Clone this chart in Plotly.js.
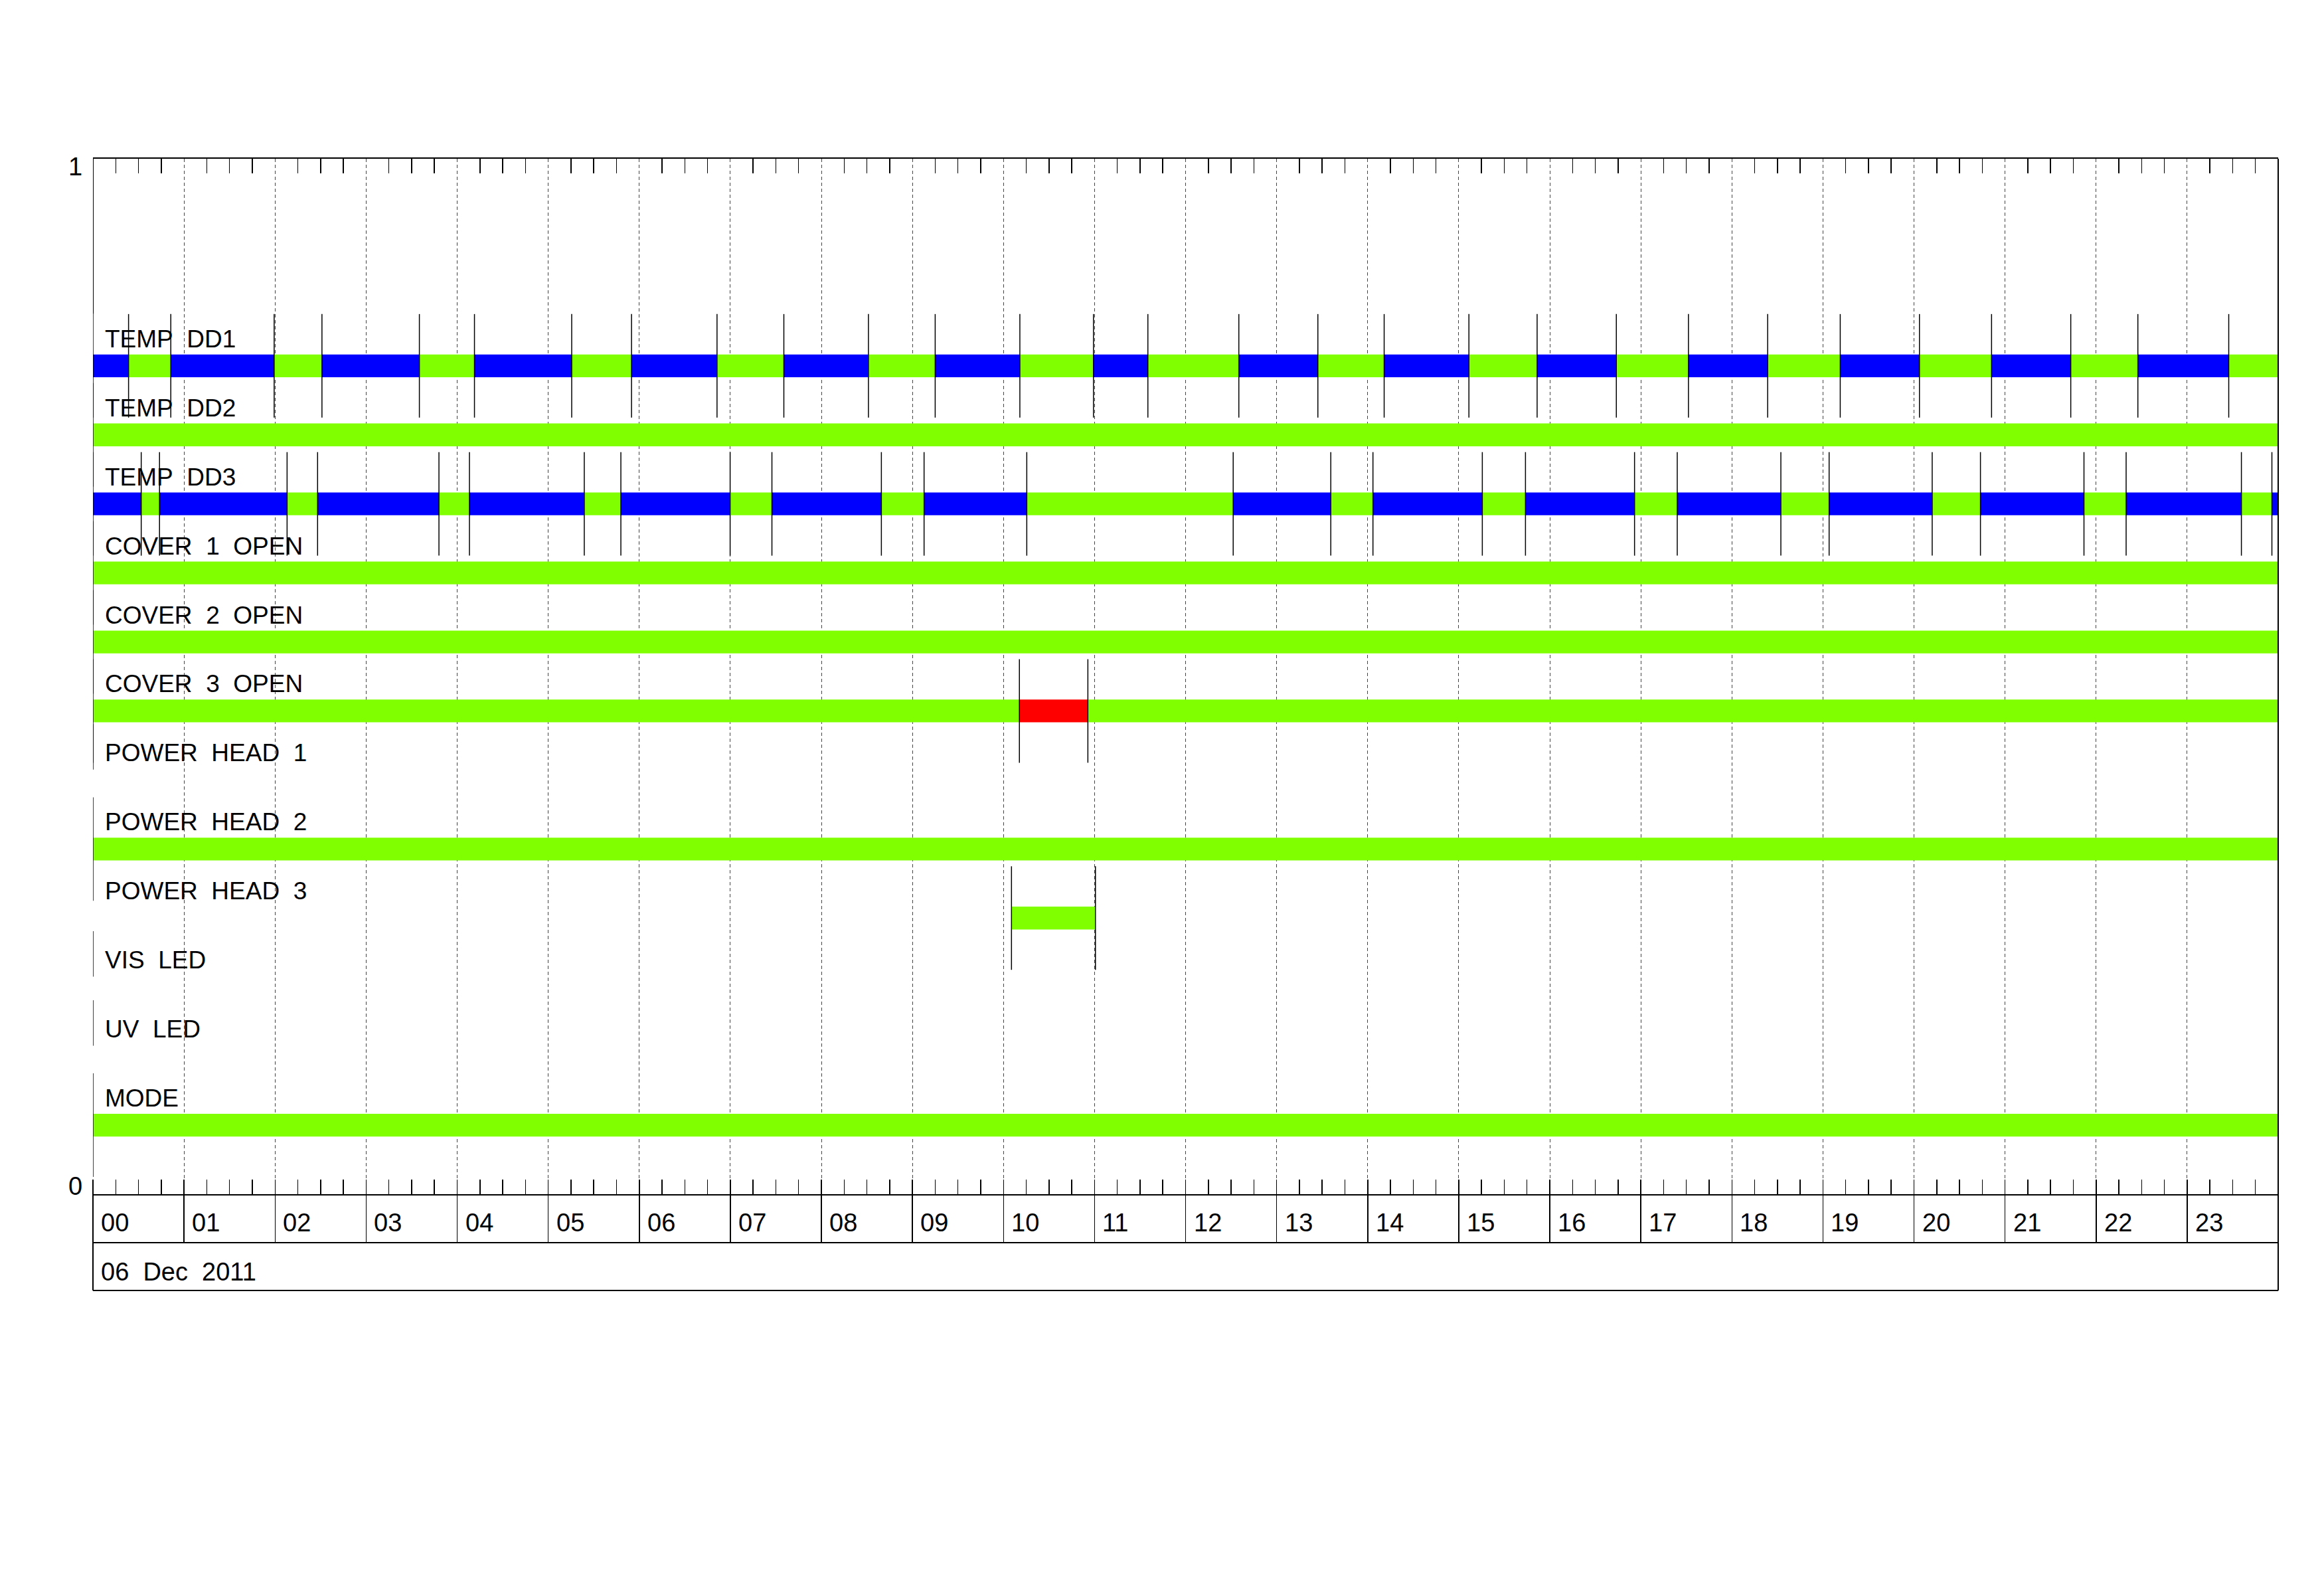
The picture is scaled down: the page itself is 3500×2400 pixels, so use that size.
<!DOCTYPE html>
<html><head><meta charset="utf-8">
<script src="https://cdn.plot.ly/plotly-3.0.1.min.js"></script>
<style>html,body{margin:0;padding:0;background:#fff;} #chart{width:3500px;height:2400px;}</style>
</head><body><div id="chart"></div>
<script>
// ---------------- DATA ----------------
const dateLabel = '06 Dec 2011';
const hourLabels = ['00','01','02','03','04','05','06','07','08','09','10','11',
                    '12','13','14','15','16','17','18','19','20','21','22','23'];
const yTickLabels = ['0', '1'];
const rowLabels = ['TEMP DD1','TEMP DD2','TEMP DD3','COVER 1 OPEN','COVER 2 OPEN','COVER 3 OPEN',
                   'POWER HEAD 1','POWER HEAD 2','POWER HEAD 3','VIS LED','UV LED','MODE'];

// status codes: 0 = blue, 1 = green, 2 = red ; times in hours of the day
const tempDD1Times  = [0, 0.391, 0.855, 1.99, 2.515, 3.585, 4.19, 5.258, 5.915, 6.854, 7.588, 8.517, 9.25,
                       10.18, 10.988, 11.586, 12.585, 13.453, 14.181, 15.112, 15.861, 16.731, 17.523, 18.393,
                       19.19, 20.06, 20.852, 21.722, 22.459, 23.457, 24];
const tempDD1States = [0,1,0,1,0,1,0,1,0,1,0,1,0,1,0,1,0,1,0,1,0,1,0,1,0,1,0,1,0,1];
const tempDD2Times  = [0, 24];
const tempDD2States = [1];
const tempDD3Times  = [0, 0.53, 0.731, 2.132, 2.467, 3.8, 4.135, 5.396, 5.798, 6.998, 7.457, 8.659, 9.128,
                       10.256, 12.523, 13.595, 14.058, 15.259, 15.733, 16.931, 17.4, 18.538, 19.068, 20.2,
                       20.73, 21.867, 22.33, 23.596, 23.931, 24];
const tempDD3States = [0,1,0,1,0,1,0,1,0,1,0,1,0,1,0,1,0,1,0,1,0,1,0,1,0,1,0,1,0];
const cover1Times   = [0, 24];
const cover1States  = [1];
const cover2Times   = [0, 24];
const cover2States  = [1];
const cover3Times   = [0, 10.175, 10.927, 24];
const cover3States  = [1, 2, 1];
const powerHead1Times  = [];
const powerHead1States = [];
const powerHead2Times  = [0, 24];
const powerHead2States = [1];
const powerHead3Times  = [10.088, 11.01];
const powerHead3States = [1];
const visLedTimes   = [];
const visLedStates  = [];
const uvLedTimes    = [];
const uvLedStates   = [];
const modeTimes     = [0, 24];
const modeStates    = [1];

const rowTimes  = [tempDD1Times, tempDD2Times, tempDD3Times, cover1Times, cover2Times, cover3Times,
                   powerHead1Times, powerHead2Times, powerHead3Times, visLedTimes, uvLedTimes, modeTimes];
const rowStates = [tempDD1States, tempDD2States, tempDD3States, cover1States, cover2States, cover3States,
                   powerHead1States, powerHead2States, powerHead3States, visLedStates, uvLedStates, modeStates];

// ---------------- STYLE ----------------
const stateColors = {0: '#0000ff', 1: '#7fff00', 2: '#ff0000'};
const FONT = 'Liberation Sans, Arial, sans-serif';
const nRows = rowLabels.length;
const slots = nRows + 3;
const rowY = i => (nRows - i) / slots;
const barThick = 0.022;
const markHalf = 0.05;

// ---------------- TRACES ----------------
const traces = [];
[0, 1, 2].forEach(code => {
  const ys = [], bases = [], lens = [];
  rowTimes.forEach((t, i) => {
    rowStates[i].forEach((s, k) => {
      if (s === code) { ys.push(rowY(i)); bases.push(t[k]); lens.push(t[k + 1] - t[k]); }
    });
  });
  traces.push({type: 'bar', orientation: 'h', y: ys, base: bases, x: lens, width: barThick,
    marker: {color: stateColors[code], line: {width: 0}}, hoverinfo: 'skip', showlegend: false});
});

const mx = [], my = [];
rowTimes.forEach((t, i) => {
  const r = rowY(i);
  if (t.length === 0) {
    mx.push(0, 0, null); my.push(r + 0.01, r + 0.054, null);
  }
  t.forEach(v => { mx.push(v, v, null); my.push(r - markHalf, r + markHalf, null); });
});
traces.push({type: 'scatter', mode: 'lines', x: mx, y: my, xaxis: 'x2', yaxis: 'y',
  line: {color: '#000', width: 1.5}, hoverinfo: 'skip', showlegend: false, connectgaps: false});

// ---------------- LAYOUT ----------------
const pxH = 1559;
const labelRowBottom = -73 / pxH;
const dateRowBottom = -145 / pxH;

const annotations = [];
rowLabels.forEach((lab, i) => {
  annotations.push({text: lab.split(' ').join('\u00a0\u00a0'), xref: 'x', yref: 'y', x: 0, y: rowY(i) + 0.026,
    xanchor: 'left', yanchor: 'middle', xshift: 16, showarrow: false,
    font: {family: FONT, size: 37, color: '#000'}});
});
hourLabels.forEach((lab, h) => {
  annotations.push({text: lab, xref: 'x', yref: 'paper', x: h, y: -43 / pxH, xanchor: 'left', yanchor: 'middle',
    xshift: 10, showarrow: false, font: {family: FONT, size: 38, color: '#000'}});
});
annotations.push({text: dateLabel.split(' ').join('\u00a0\u00a0'), xref: 'x', yref: 'paper', x: 0, y: -117 / pxH,
  xanchor: 'left', yanchor: 'middle', xshift: 10, showarrow: false, font: {family: FONT, size: 38, color: '#000'}});
annotations.push({text: yTickLabels[1], xref: 'paper', yref: 'y', x: 0, y: 1, xanchor: 'center', yanchor: 'top',
  xshift: -27, yshift: 11, showarrow: false, font: {family: FONT, size: 38, color: '#000'}});
annotations.push({text: yTickLabels[0], xref: 'paper', yref: 'y', x: 0, y: 0, xanchor: 'center', yanchor: 'bottom',
  xshift: -27, yshift: -11, showarrow: false, font: {family: FONT, size: 38, color: '#000'}});

const line = {color: '#000', width: 2};
const shapes = [
  {type: 'line', xref: 'x', yref: 'y', x0: 0, x1: 0, y0: rowY(0) + markHalf, y1: 1, line: line},
  {type: 'line', xref: 'paper', yref: 'paper', x0: 0, x1: 0, y0: dateRowBottom, y1: 0, line: line},
  {type: 'line', xref: 'paper', yref: 'paper', x0: 1, x1: 1, y0: dateRowBottom, y1: 1, line: line},
  {type: 'line', xref: 'paper', yref: 'paper', x0: 0, x1: 1, y0: labelRowBottom, y1: labelRowBottom, line: line},
  {type: 'line', xref: 'paper', yref: 'paper', x0: 0, x1: 1, y0: dateRowBottom, y1: dateRowBottom, line: line}
];

const layout = {
  width: 3500, height: 2400,
  margin: {l: 140, r: 69, t: 239, b: 602, pad: 0},
  paper_bgcolor: '#fff', plot_bgcolor: '#fff',
  showlegend: false, barmode: 'overlay',
  xaxis: {range: [0, 24], tick0: 0, dtick: 1, ticks: 'outside', ticklen: 72, tickwidth: 1.5, tickcolor: '#000',
    showticklabels: false, showgrid: true, gridcolor: '#444', gridwidth: 1, griddash: '5px,4px',
    zeroline: false, showline: true, linecolor: '#000', linewidth: 2, fixedrange: true,
    minor: {tick0: 0, dtick: 0.25, ticks: 'inside', ticklen: 22, tickwidth: 1.5, tickcolor: '#000', showgrid: false}},
  xaxis2: {overlaying: 'x', anchor: 'y', side: 'top', range: [0, 24], tick0: 0, dtick: 1, ticks: '',
    showticklabels: false, showgrid: false, zeroline: false, showline: true, linecolor: '#000', linewidth: 2,
    fixedrange: true,
    minor: {tick0: 0, dtick: 0.25, ticks: 'inside', ticklen: 22, tickwidth: 1.5, tickcolor: '#000', showgrid: false}},
  yaxis: {range: [0, 1], showticklabels: false, ticks: '', showgrid: false, zeroline: false, showline: false,
    fixedrange: true},
  annotations: annotations,
  shapes: shapes
};

Plotly.newPlot('chart', traces, layout, {staticPlot: true, displayModeBar: false});
</script>
</body></html>
